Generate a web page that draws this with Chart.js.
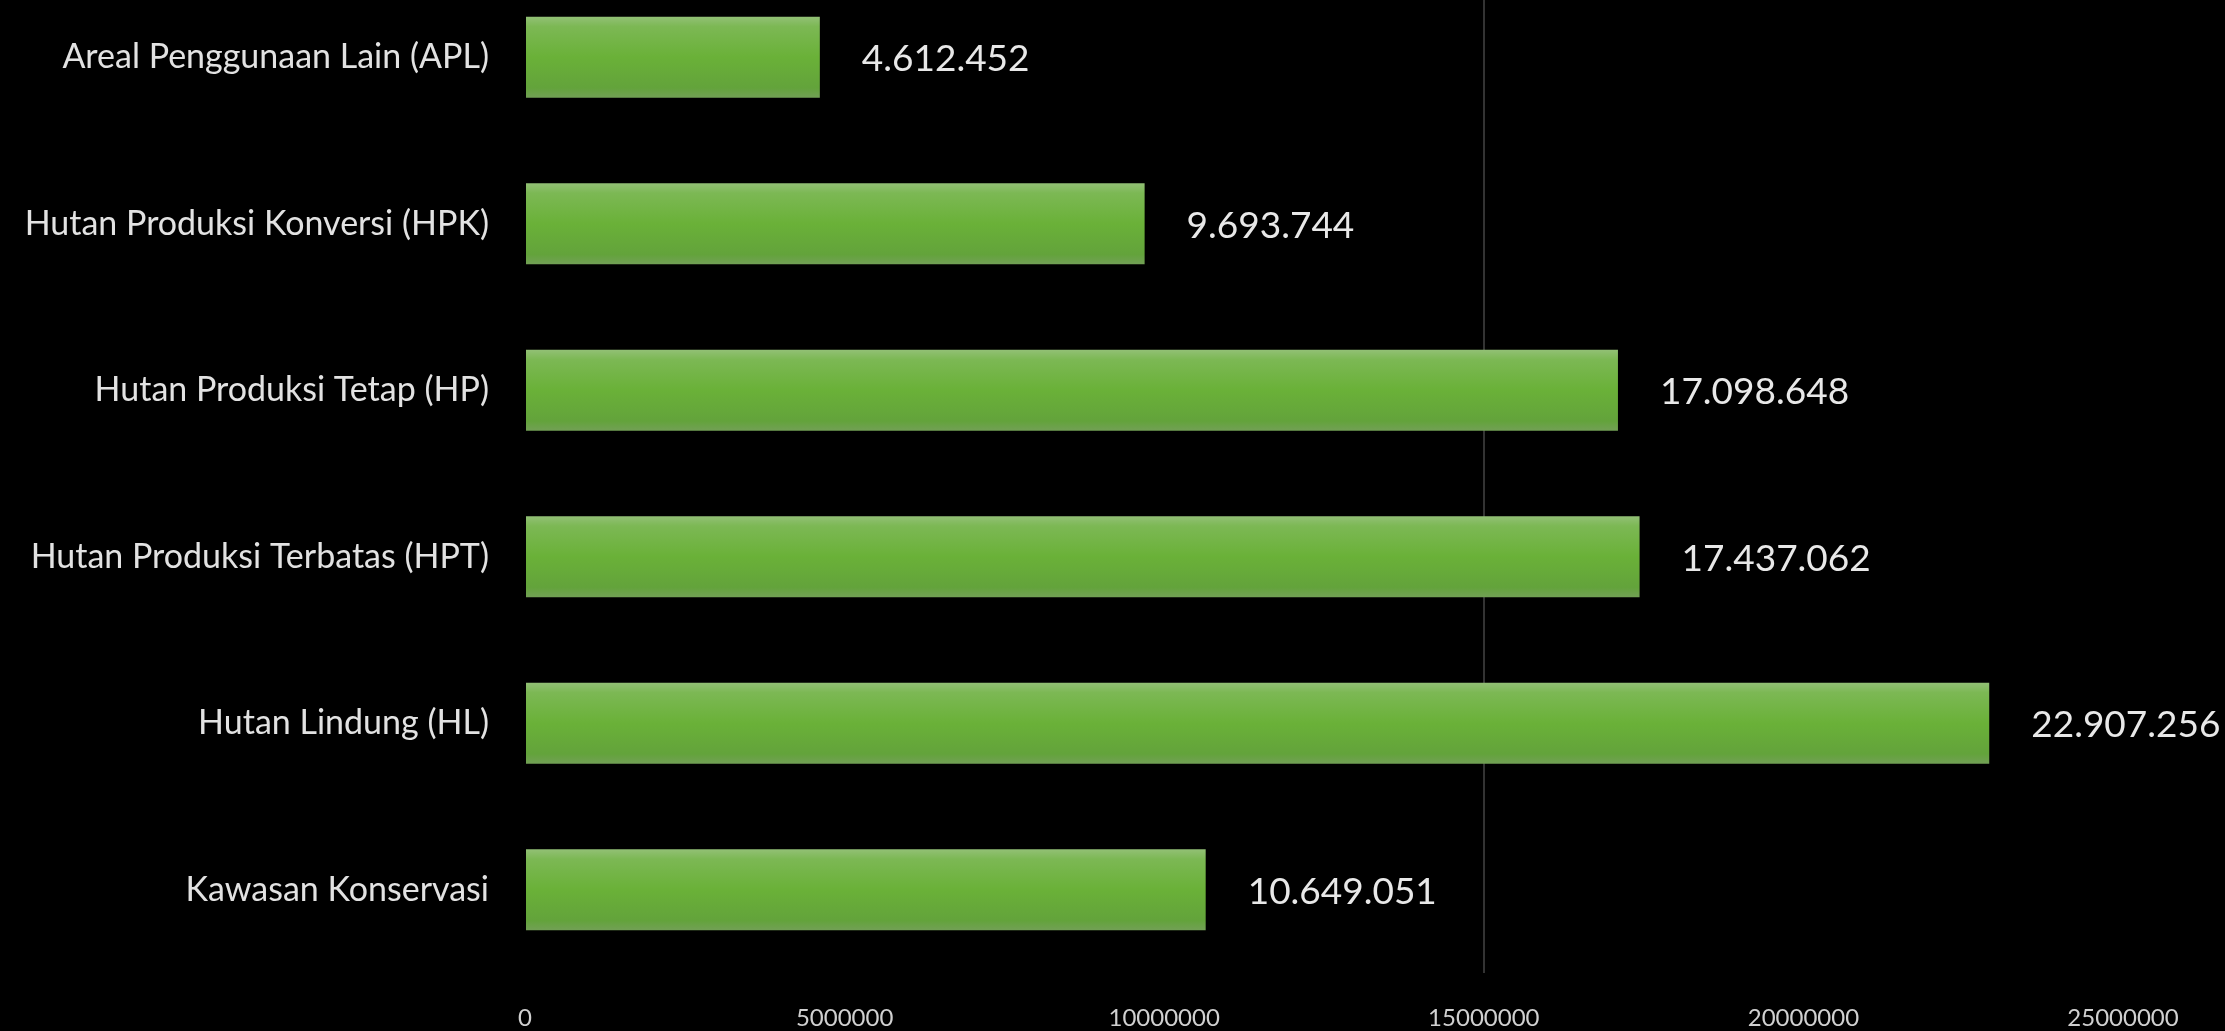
<!DOCTYPE html>
<html>
<head>
<meta charset="utf-8">
<title>Luas Kawasan Hutan</title>
<script src="https://cdn.jsdelivr.net/npm/chart.js@4.4.1/dist/chart.umd.min.js"></script>
<style>
    html, body { margin: 0; padding: 0; background: #000; overflow: hidden; }
    /* canvas is taller than the window so the first row sits close to the top edge */
    #kawasan-hutan { position: absolute; left: 0; top: -81px; }
</style>
</head>
<body>
<canvas id="kawasan-hutan" width="2225" height="1112"></canvas>
<script>
// Luas kawasan hutan per fungsi (ha)
const categories = [
    "Areal Penggunaan Lain (APL)",
    "Hutan Produksi Konversi (HPK)",
    "Hutan Produksi Tetap (HP)",
    "Hutan Produksi Terbatas (HPT)",
    "Hutan Lindung (HL)",
    "Kawasan Konservasi",
];
const luasHa = [4612452, 9693744, 17098648, 17437062, 22907256, 10649051];
const xTicks = [0, 5000000, 10000000, 15000000, 20000000, 25000000];

const BAR_PCT = 0.485;
const FONT = "Lato, 'Open Sans', sans-serif";

/** 17098648 -> "17.098.648" */
function formatId(n) {
    return String(n).replace(/\B(?=(\d{3})+(?!\d))/g, ".");
}

/** Vertical gradient for one bar, built from the y scale position */
function barFill(c) {
    const chart = c.chart;
    const yScale = chart.scales && chart.scales.y;
    if (c.dataIndex === undefined || !yScale || !chart.chartArea) return "#6ab138";
    const y = yScale.getPixelForValue(c.dataIndex);
    const half = (yScale.height / categories.length) * BAR_PCT / 2;
    const g = chart.ctx.createLinearGradient(0, y - half, 0, y + half);
    g.addColorStop(0, "#92c075");
    g.addColorStop(0.12, "#7cb854");
    g.addColorStop(0.5, "#6ab138");
    g.addColorStop(0.88, "#63a33b");
    g.addColorStop(1, "#72a055");
    return g;
}

// Value text to the right of every bar
const valueLabels = {
    id: "valueLabels",
    afterDatasetsDraw(chart) {
        const { ctx } = chart;
        const meta = chart.getDatasetMeta(0);
        ctx.save();
        ctx.font = `37px ${FONT}`;
        ctx.fillStyle = "#e8e8e8";
        ctx.textAlign = "left";
        ctx.textBaseline = "middle";
        meta.data.forEach((bar, i) => {
            ctx.fillText(formatId(luasHa[i]), bar.x + 42, bar.y + 2);
        });
        ctx.restore();
    },
};

new Chart(document.getElementById("kawasan-hutan"), {
    type: "bar",
    data: {
        labels: categories,
        datasets: [
            {
                label: "Luas (ha)",
                data: luasHa,
                backgroundColor: barFill,
                borderWidth: 0,
                categoryPercentage: 1,
                barPercentage: BAR_PCT,
            },
        ],
    },
    options: {
        indexAxis: "y",
        responsive: false,
        animation: false,
        layout: { padding: { top: 55, right: 102, bottom: 0, left: 0 } },
        plugins: {
            legend: { display: false },
            tooltip: { enabled: false },
        },
        scales: {
            x: {
                min: xTicks[0],
                max: xTicks[xTicks.length - 1],
                afterBuildTicks: (s) => { s.ticks = xTicks.map((v) => ({ value: v })); },
                afterFit: (s) => { s.height = 58; },
                border: { display: false },
                grid: {
                    drawTicks: false,
                    color: (c) => (c.tick && c.tick.value === 15000000 ? "#333333" : "transparent"),
                    lineWidth: 2,
                },
                ticks: {
                    color: "#d0d0d0",
                    font: { family: FONT, size: 24 },
                    padding: 31,
                    maxRotation: 0,
                    callback: (v) => String(v),
                },
            },
            y: {
                afterFit: (s) => {
                    s.width = 525;
                    s.paddingTop = 0;
                    s.paddingBottom = 0;
                },
                border: { display: false },
                grid: { display: false },
                ticks: {
                    color: "#e2e2e2",
                    font: { family: FONT, size: 34 },
                    padding: 28,
                },
            },
        },
    },
    plugins: [valueLabels],
});
</script>
</body>
</html>
